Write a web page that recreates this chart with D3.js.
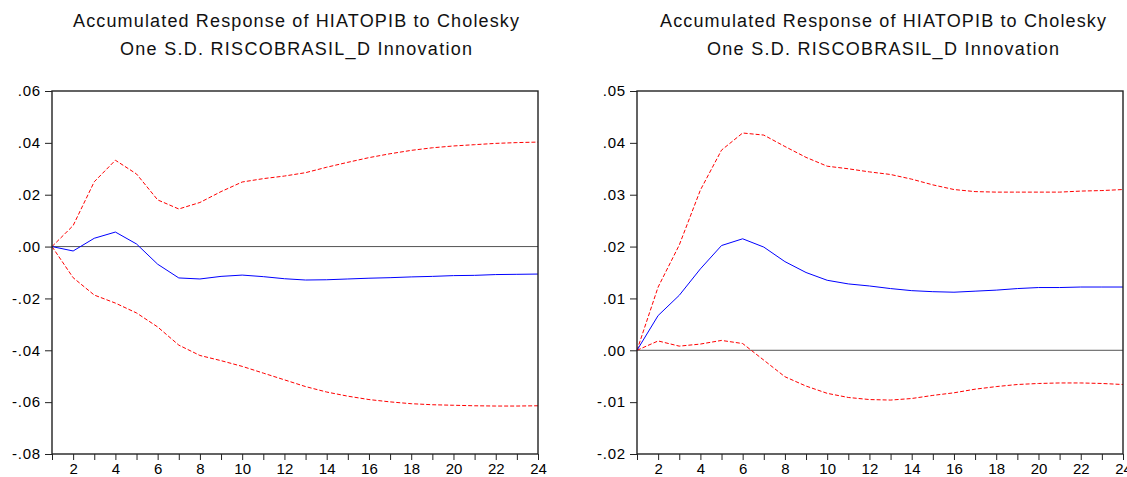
<!DOCTYPE html>
<html>
<head>
<meta charset="utf-8">
<script src="https://cdn.jsdelivr.net/npm/d3@7"></script>
<style>
  body { margin: 0; background: #fff; }
  svg { display: block; font-family: "Liberation Sans", Arial, sans-serif; }
</style>
</head>
<body>
<svg id="chart" width="1127" height="477"></svg>
<script>
// ---- data ----
const periods = d3.range(1, 25);
const xTickLabels = [2, 4, 6, 8, 10, 12, 14, 16, 18, 20, 22, 24];

const titleLine1 = "Accumulated Response of HIATOPIB to Cholesky";
const titleLine2 = "One S.D. RISCOBRASIL_D Innovation";

// left panel
const leftResponse = [0, -0.0017, 0.0032, 0.0056, 0.0010, -0.0068, -0.0121, -0.0125, -0.0115, -0.0110, -0.0116, -0.0124,
  -0.0129, -0.0128, -0.0125, -0.0122, -0.0120, -0.0117, -0.0115, -0.0112, -0.0111, -0.0108, -0.0107, -0.0106];
const leftUpper = [0, 0.0081, 0.0250, 0.0333, 0.0280, 0.0180, 0.0145, 0.0170, 0.0212, 0.0249, 0.0262, 0.0272,
  0.0285, 0.0306, 0.0325, 0.0343, 0.0358, 0.0371, 0.0381, 0.0388, 0.0393, 0.0398, 0.0401, 0.0403];
const leftLower = [0, -0.0120, -0.0187, -0.0218, -0.0256, -0.0310, -0.0380, -0.0420, -0.0440, -0.0462, -0.0488, -0.0514,
  -0.0540, -0.0561, -0.0577, -0.0590, -0.0599, -0.0606, -0.0610, -0.0612, -0.0614, -0.0615, -0.0615, -0.0614];
const leftYTicks = [0.06, 0.04, 0.02, 0.00, -0.02, -0.04, -0.06, -0.08];

// right panel
const rightResponse = [0, 0.0067, 0.0106, 0.0157, 0.0202, 0.0215, 0.0199, 0.0171, 0.0150, 0.0135, 0.0128, 0.0124,
  0.0119, 0.0115, 0.0113, 0.0112, 0.0114, 0.0116, 0.0119, 0.0121, 0.0121, 0.0122, 0.0122, 0.0122];
const rightUpper = [0, 0.0122, 0.0203, 0.0309, 0.0386, 0.0419, 0.0415, 0.0393, 0.0372, 0.0355, 0.0350, 0.0344,
  0.0339, 0.0330, 0.0319, 0.0310, 0.0306, 0.0305, 0.0305, 0.0305, 0.0305, 0.0307, 0.0308, 0.0310];
const rightLower = [0, 0.0018, 0.0008, 0.0012, 0.0019, 0.0013, -0.0019, -0.0051, -0.0069, -0.0083, -0.0091, -0.0095,
  -0.0096, -0.0093, -0.0087, -0.0082, -0.0075, -0.0070, -0.0066, -0.0064, -0.0063, -0.0063, -0.0064, -0.0066];
const rightYTicks = [0.05, 0.04, 0.03, 0.02, 0.01, 0.00, -0.01, -0.02];

const svg = d3.select("#chart");

function fmt(v) {
  let s = Math.abs(v).toFixed(2).replace(/^0/, "");
  return (v < -1e-9 ? "-" : "") + s;
}

function panel(opts) {
  const { x0, x1, y0, y1, yDomain, yTicks, resp, up, lo, cx } = opts;
  const g = svg.append("g");
  const x = d3.scaleLinear().domain([1, 24]).range([x0, x1]);
  const y = d3.scaleLinear().domain(yDomain).range([y1, y0]);

  // title
  g.append("text").attr("x", cx).attr("y", 27).attr("text-anchor", "middle")
    .attr("font-size", 18).attr("fill", "#111")
    .attr("textLength", 446).attr("lengthAdjust", "spacing").text(titleLine1);
  g.append("text").attr("x", cx).attr("y", 55).attr("text-anchor", "middle")
    .attr("font-size", 18).attr("fill", "#111")
    .attr("textLength", 352).attr("lengthAdjust", "spacing").text(titleLine2);

  // zero line
  g.append("line").attr("x1", x0).attr("x2", x1).attr("y1", y(0)).attr("y2", y(0))
    .attr("stroke", "#555").attr("stroke-width", 1);

  const line = d3.line().x((d, i) => x(periods[i])).y(d => y(d));
  g.append("path").datum(up).attr("d", line).attr("fill", "none")
    .attr("stroke", "#ff0000").attr("stroke-width", 1).attr("stroke-dasharray", "4,2");
  g.append("path").datum(lo).attr("d", line).attr("fill", "none")
    .attr("stroke", "#ff0000").attr("stroke-width", 1).attr("stroke-dasharray", "4,2");
  g.append("path").datum(resp).attr("d", line).attr("fill", "none")
    .attr("stroke", "#0000ff").attr("stroke-width", 1);

  // frame
  g.append("rect").attr("x", x0).attr("y", y0).attr("width", x1 - x0).attr("height", y1 - y0)
    .attr("fill", "none").attr("stroke", "#222").attr("stroke-width", 1.4);

  // y axis
  const ya = d3.axisLeft(y).tickValues(yTicks).tickFormat(fmt).tickSize(7).tickPadding(4);
  const yg = g.append("g").attr("transform", `translate(${x0},0)`).call(ya);
  yg.select(".domain").remove();
  yg.selectAll("line").attr("stroke", "#222");
  yg.selectAll("text").attr("font-size", 15).attr("fill", "#000")
    .attr("letter-spacing", 0.8).attr("font-family", "Liberation Sans, Arial, sans-serif");

  // x axis
  const xa = d3.axisBottom(x).tickValues(periods).tickSize(6).tickPadding(3)
    .tickFormat(d => xTickLabels.includes(d) ? d : "");
  const xg = g.append("g").attr("transform", `translate(0,${y1})`).call(xa);
  xg.select(".domain").remove();
  xg.selectAll("line").attr("stroke", "#222");
  xg.selectAll("text").attr("font-size", 15).attr("fill", "#000").attr("font-family", "Liberation Sans, Arial, sans-serif");
}

panel({ x0: 52, x1: 538, y0: 91, y1: 454, yDomain: [-0.08, 0.06], yTicks: leftYTicks,
  resp: leftResponse, up: leftUpper, lo: leftLower, cx: 296 });
panel({ x0: 637, x1: 1123, y0: 91, y1: 454, yDomain: [-0.02, 0.05], yTicks: rightYTicks,
  resp: rightResponse, up: rightUpper, lo: rightLower, cx: 883 });
</script>
</body>
</html>
